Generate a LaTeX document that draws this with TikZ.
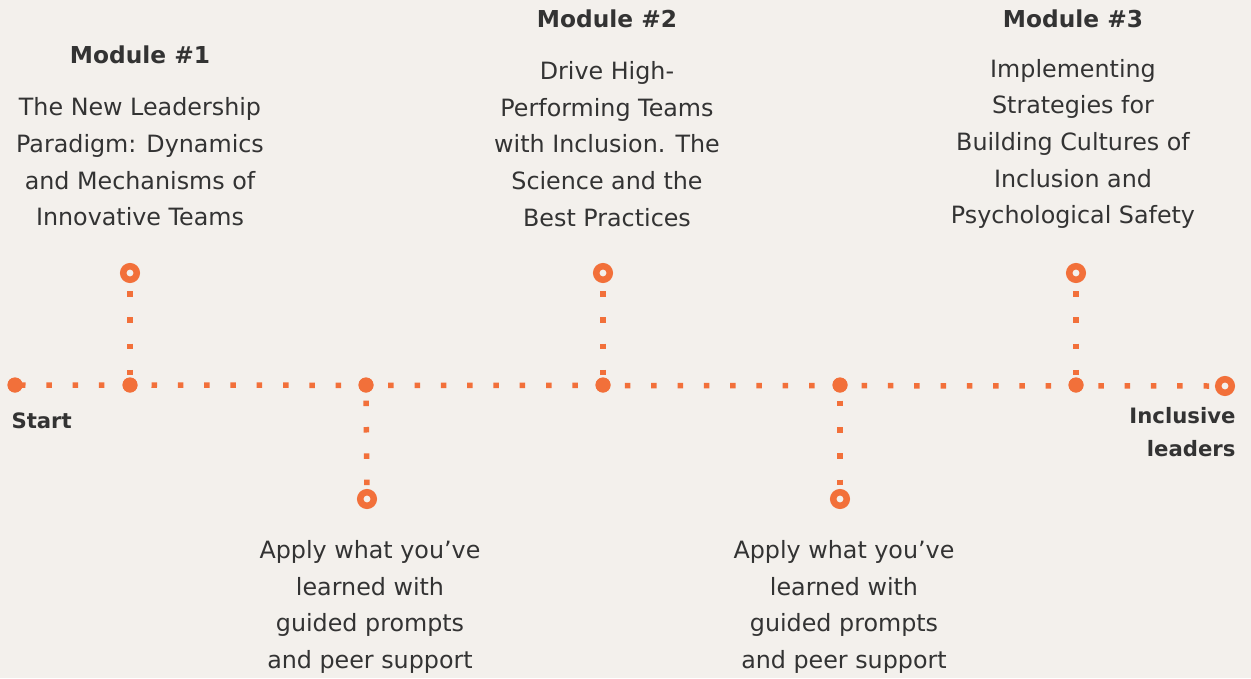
\documentclass[tikz,border=0pt]{standalone}
\usepackage{fontspec}
\setmainfont{DejaVu Sans}
\definecolor{bg}{RGB}{243,240,236}
\definecolor{org}{RGB}{242,112,58}
\definecolor{txt}{RGB}{51,51,51}
\begin{document}
\begin{tikzpicture}[x=1pt,y=-1pt,
  ring/.style={circle,draw=org,line width=6.5pt,minimum size=13.5pt,inner sep=0pt,fill=bg},
  dot/.style={circle,fill=org,minimum size=15pt,inner sep=0pt},
  dots/.style={org,line width=5.5pt,dash pattern=on 5.5pt off 20.8pt},
  body/.style={text=txt,align=center,font=\fontsize{23.8}{36.7}\selectfont},
  head/.style={text=txt,font=\fontsize{23.3}{26}\selectfont\bfseries},
  lbl/.style={text=txt,font=\fontsize{21.2}{33}\selectfont\bfseries}]
\fill[bg] (0,0) rectangle (1251,678);
\useasboundingbox (0,0) rectangle (1251,678);
% main line points
\node[dot] (s) at (15,385) {};
\node[dot] (d1) at (130,385) {};
\node[dot] (d2) at (366,385) {};
\node[dot] (d3) at (603,385) {};
\node[dot] (d4) at (840,385) {};
\node[dot] (d5) at (1076,385) {};
\node[ring] (e) at (1225,386) {};
% branch rings
\node[ring] (u1) at (130,273) {};
\node[ring] (u2) at (603,273) {};
\node[ring] (u3) at (1076,273) {};
\node[ring] (l1) at (367,499) {};
\node[ring] (l2) at (840,499) {};
% dotted connectors
\draw[dots,dash phase=-5] (s.center) -- (e.west);
\draw[dots,dash phase=-8] (u1.south) -- (d1.north);
\draw[dots,dash phase=-8] (u2.south) -- (d3.north);
\draw[dots,dash phase=-8] (u3.south) -- (d5.north);
\draw[dots,dash phase=-8] (d2.south) -- (l1.north);
\draw[dots,dash phase=-8] (d4.south) -- (l2.north);
% redraw dots on top
\foreach \n in {s,d1,d2,d3,d4,d5} \fill[org] (\n) circle (7.5);
% texts
\node[head] (h1) at (140,55) {Module \#1};
\node[body] (b1) at (140,162) {The New Leadership\\Paradigm: Dynamics\\and Mechanisms of\\Innovative Teams};
\node[head] (h2) at (607,19) {Module \#2};
\node[body] (b2) at (607,144) {Drive High-\\Performing Teams\\with Inclusion. The\\Science and the\\Best Practices};
\node[head] (h3) at (1073,19) {Module \#3};
\node[body] (b3) at (1073,144) {Implementing\\Strategies for\\Building Cultures of\\Inclusion and\\Psychological Safety};
\node[body] (a1) at (370,607) {Apply what you’ve\\learned with\\guided prompts\\and peer support};
\node[body] (a2) at (844,607) {Apply what you’ve\\learned with\\guided prompts\\and peer support};
\node[lbl,anchor=west] (st) at (8,421) {Start};
\node[lbl,anchor=north east,align=right] (il) at (1239,404) {Inclusive\\leaders};
\end{tikzpicture}
\end{document}
